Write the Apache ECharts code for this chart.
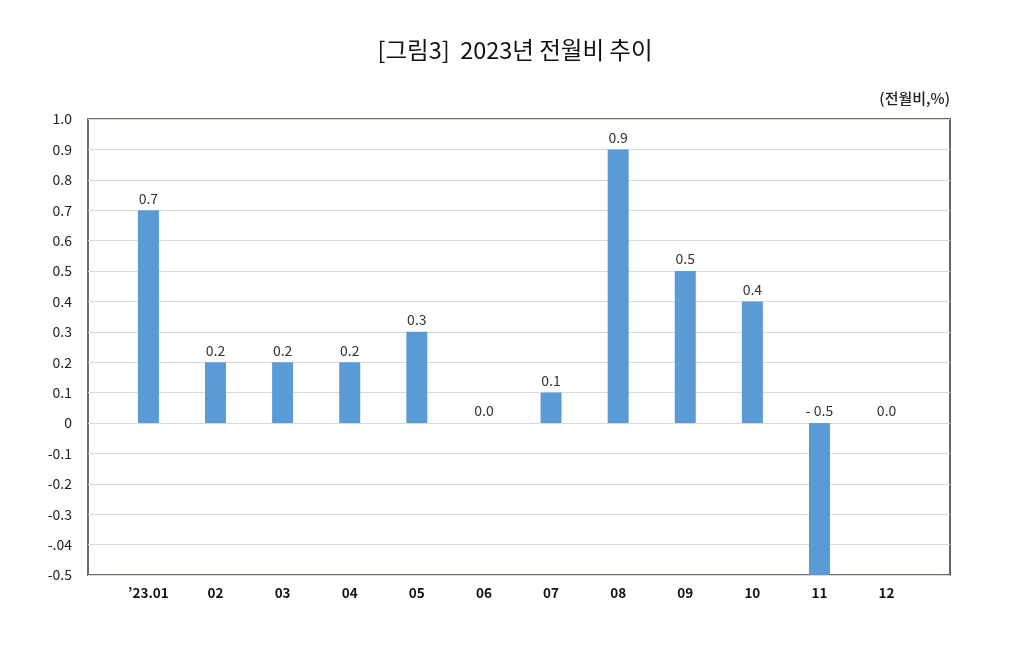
<!DOCTYPE html>
<html><head><meta charset="utf-8">
<script src="https://cdn.jsdelivr.net/npm/echarts@6/dist/echarts.min.js"></script>
<style>html,body{margin:0;padding:0;background:#fff;}#c{width:1030px;height:650px;}</style>
</head><body><div id="c"></div>
<script>
const months = ["’23.01","02","03","04","05","06","07","08","09","10","11","12"];
const values = [0.7,0.2,0.2,0.2,0.3,0.0,0.1,0.9,0.5,0.4,-0.5,0.0];
const valueLabels = ["0.7","0.2","0.2","0.2","0.3","0.0","0.1","0.9","0.5","0.4","- 0.5","0.0"];
const yTickLabels = {"1":"1.0","0.9":"0.9","0.8":"0.8","0.7":"0.7","0.6":"0.6","0.5":"0.5","0.4":"0.4","0.3":"0.3","0.2":"0.2","0.1":"0.1","0":"0","-0.1":"-0.1","-0.2":"-0.2","-0.3":"-0.3","-0.4":"-.04","-0.5":"-0.5"};

const FONT = '"Noto Sans CJK KR","Noto Sans",sans-serif';
const chart = echarts.init(document.getElementById('c'), null, {renderer:'canvas'});
const data = values.map((v,i)=>[i,v]);
chart.setOption({
  animation:false,
  backgroundColor:'#fff',
  title:{text:'[그림3]  2023년 전월비 추이',left:'center',top:33,
    textStyle:{fontFamily:FONT,fontSize:23.5,fontWeight:'normal',color:'#111'}},
  graphic:[{type:'text',right:80,top:91,style:{text:'(전월비,%)',font:'500 15px '+FONT,fill:'#222',textAlign:'right'}}],
  grid:{left:88,top:119,width:862,height:456,show:true,borderColor:'#5f6b78',borderWidth:2,backgroundColor:'transparent'},
  xAxis:{type:'value',min:-0.9,max:11.945,
    axisLine:{show:false},axisTick:{show:false},splitLine:{show:false},
    axisLabel:{customValues:[0,1,2,3,4,5,6,7,8,9,10,11],formatter:v=>months[Math.round(v)],
      fontFamily:FONT,fontSize:13.5,fontWeight:'bold',color:'#111',margin:11}},
  yAxis:{type:'value',min:-0.5,max:1.0,interval:0.1,
    axisLine:{show:false},axisTick:{show:false},
    splitLine:{lineStyle:{color:'#d9d9d9',width:1}},
    axisLabel:{formatter:v=>{const k=String(Math.round(v*10)/10);return yTickLabels[k]!==undefined?yTickLabels[k]:k;},
      fontFamily:FONT,fontSize:14,color:'#222',margin:16}},
  series:[{type:'bar',data:data,barWidth:21,itemStyle:{color:'#5b9bd5'},
    label:{show:true,position:'top',distance:5,fontFamily:FONT,fontSize:14,color:'#333',
      formatter:p=>valueLabels[p.dataIndex]}}]
});
</script></body></html>
